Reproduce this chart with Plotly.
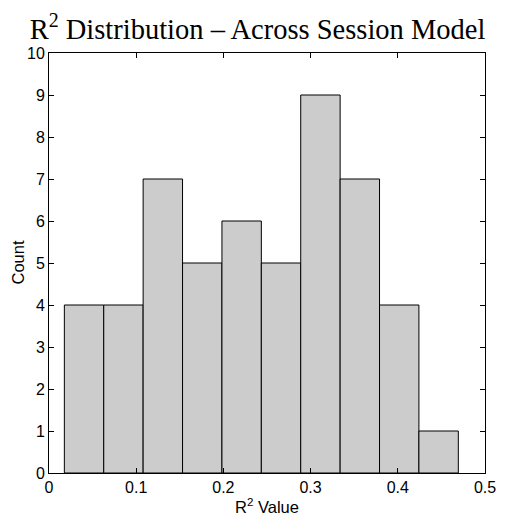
import numpy as np
import plotly.graph_objects as go

counts = [4, 4, 7, 5, 6, 5, 9, 7, 4, 1]
bin_lo = 0.0176
bin_hi = 0.4694
x_ticks = [0, 0.1, 0.2, 0.3, 0.4, 0.5]
x_tick_labels = ["0", "0.1", "0.2", "0.3", "0.4", "0.5"]
y_ticks = list(range(0, 11))

edges = np.linspace(bin_lo, bin_hi, len(counts) + 1)
centers = (edges[:-1] + edges[1:]) / 2
width = edges[1] - edges[0]

fig = go.Figure()
fig.add_trace(go.Bar(
    x=centers, y=counts, width=[width] * len(counts),
    marker=dict(color="#cccccc", line=dict(color="black", width=1)),
))

axis_common = dict(
    showline=True, linecolor="black", linewidth=1, mirror="allticks",
    ticks="inside", ticklen=5, tickcolor="black", showgrid=False, zeroline=False,
    automargin=False,
    tickfont=dict(family="Liberation Sans, Arial", size=16, color="black"),
)

fig.update_layout(
    width=508, height=518,
    margin=dict(l=49, r=23, t=53, b=45),
    plot_bgcolor="white", paper_bgcolor="white",
    showlegend=False,
    title=dict(
        text="R<sup>2</sup> Distribution \u2013 Across Session Model",
        x=257.5 / 508, xanchor="center", xref="container",
        y=1 - 29 / 518, yanchor="middle", yref="container",
        font=dict(family="Liberation Serif, Times New Roman", size=28.5, color="black"),
    ),
    xaxis=dict(
        range=[0, 0.5], tickvals=x_ticks, ticktext=x_tick_labels,
        title=dict(text="R<sup>2</sup> Value", standoff=6,
                   font=dict(family="Liberation Sans, Arial", size=16.5, color="black")),
        **axis_common,
    ),
    yaxis=dict(
        range=[0, 10], tickvals=y_ticks,
        **axis_common,
    ),
    annotations=[dict(
        text="Count", textangle=-90, showarrow=False,
        xref="paper", yref="paper", x=0, y=0.5,
        xanchor="center", yanchor="middle", xshift=-31.5,
        font=dict(family="Liberation Sans, Arial", size=16.5, color="black"),
    )],
)

fig.write_html("out.html")
